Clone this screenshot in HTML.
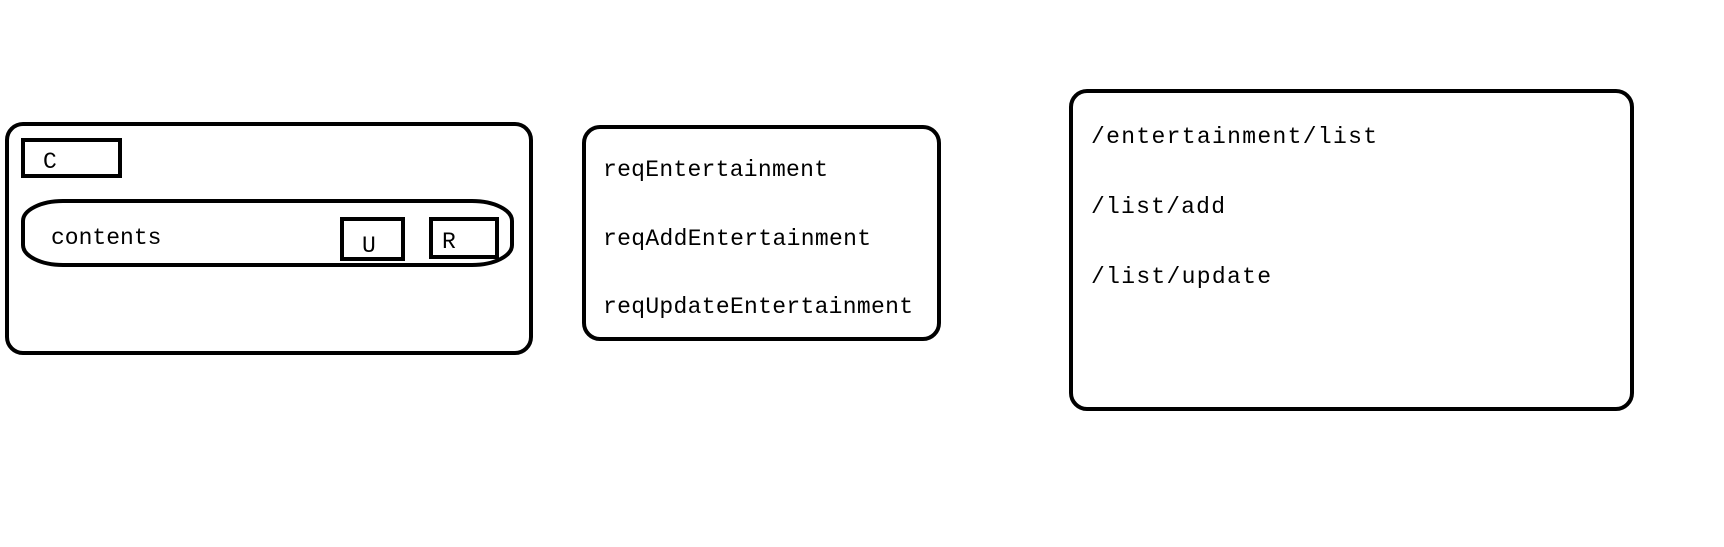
<!DOCTYPE html>
<html><head><meta charset="utf-8"><style>
html,body{margin:0;padding:0;background:#fff;width:1724px;height:547px;overflow:hidden}
text{font-family:"Liberation Mono",monospace;font-size:23px;fill:#000}
</style></head><body>
<svg width="1724" height="547" xmlns="http://www.w3.org/2000/svg">
<g fill="none" stroke="#000" stroke-width="4">
<rect x="7" y="124" width="524" height="229" rx="16"/>
<rect x="23" y="140" width="97" height="36"/>
<rect x="23" y="201" width="489" height="64" rx="40" ry="20"/>
<rect x="342" y="219" width="61" height="40"/>
<rect x="431" y="219" width="66" height="38"/>
<rect x="584" y="127" width="355" height="212" rx="16"/>
<rect x="1071" y="91" width="568" height="318" rx="16" transform="translate(0,0)" style="display:none"/>
<rect x="1071" y="91" width="561" height="318" rx="16"/>
</g>
<text x="43" y="168">C</text>
<text x="51" y="244">contents</text>
<text x="362" y="252">U</text>
<text x="442" y="248">R</text>
<text x="603" y="176" textLength="225">reqEntertainment</text>
<text x="603" y="245" textLength="268">reqAddEntertainment</text>
<text x="603" y="313" textLength="310">reqUpdateEntertainment</text>
<text x="1091" y="143" textLength="286">/entertainment/list</text>
<text x="1091" y="213" textLength="134">/list/add</text>
<text x="1091" y="283" textLength="180">/list/update</text>
</svg>
</body></html>
